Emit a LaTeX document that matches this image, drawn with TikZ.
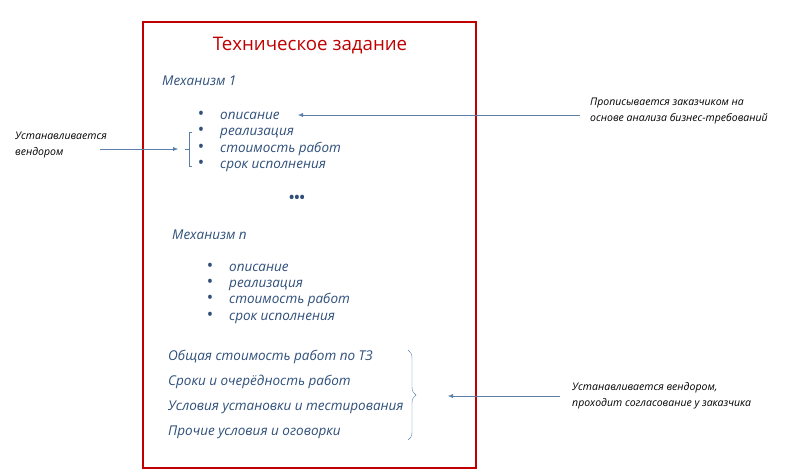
\documentclass[tikz,border=0pt]{standalone}
\usepackage{fontspec}
\setmainfont{Open Sans}
\usetikzlibrary{decorations.pathreplacing,arrows.meta}
\definecolor{tzblue}{HTML}{2F4F7A}
\definecolor{tzline}{HTML}{5B7FA8}
\definecolor{tzred}{HTML}{C00000}
\tikzset{
  item/.style={anchor=base west,inner sep=0pt,text=tzblue,font=\fontsize{13.5}{15}\selectfont\itshape},
  bul/.style={anchor=base,inner sep=0pt,text=tzblue,font=\fontsize{17}{18}\selectfont},
  note/.style={anchor=west,inner sep=0pt,align=left,font=\fontsize{10.5}{16}\selectfont\itshape},
  arr/.style={draw=tzline,-{Latex[length=5pt,width=4pt]},thin}
}
\begin{document}
\begin{tikzpicture}[x=1pt,y=-1pt]
\useasboundingbox (0,0) rectangle (792,475);
\draw[tzred,line width=2pt] (143,22) rectangle (476,468);
  \node[text=tzred,font=\fontsize{18.7}{22}\selectfont] (title) at (310,46) {Техническое задание};
  \node[item] (m1) at (162,85) {Механизм 1};
  % first mechanism
  \foreach \t [count=\i] in {описание,реализация,стоимость работ,срок исполнения}{
    \node[bul] (b1\i) at (201,102.5+16.5*\i) {•};
    \node[item] (t1\i) at (220,102.5+16.5*\i) {\t};
  }
  \node[text=tzblue,font=\fontsize{14}{14}\selectfont\bfseries] (dots) at (297,199) {•••};
  \node[item] (mn) at (172,239) {Механизм n};
  % second mechanism
  \foreach \t [count=\i] in {описание,реализация,стоимость работ,срок исполнения}{
    \node[bul] (b2\i) at (210,255+16.3*\i) {•};
    \node[item] (t2\i) at (229,255+16.3*\i) {\t};
  }
  \node[item] (s1) at (168,360) {Общая стоимость работ по ТЗ};
  \node[item] (s2) at (168,385) {Сроки и очерёдность работ};
  \node[item] (s3) at (168,410) {Условия установки и тестирования};
  \node[item] (s4) at (168,435) {Прочие условия и оговорки};
  % notes
  \node[note] (nr) at (590,111) {Прописывается заказчиком на\\основе анализа бизнес-требований};
  \node[note] (nl) at (15,145) {Устанавливается\\вендором};
  \node[note] (nb) at (572,396) {Устанавливается вендором,\\проходит согласование у заказчика};
  \coordinate (c1) at (298,115);
  \coordinate (r1) at (580,115);
  \coordinate (c2) at (178,149);
  \coordinate (l1) at (100,149);
  \coordinate (c3) at (448,396);
  \coordinate (r3) at (560,396);
  \draw[tzline] (192,132) -- (189,132) -- (189,166) -- (192,166) (189,149) -- (185,149);
  \draw[tzline,decorate,decoration={brace,amplitude=8pt}] (408,350) -- (408,440);
  \draw[arr] (r1) -- (c1);
  \draw[arr] (l1) -- (c2);
  \draw[arr] (r3) -- (c3);
\end{tikzpicture}
\end{document}
